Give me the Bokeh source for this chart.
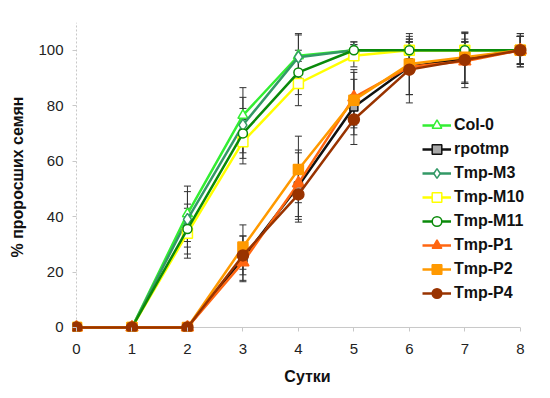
from bokeh.plotting import figure
from bokeh.models import ColumnDataSource, Whisker, TeeHead, Legend, LegendItem, Range1d, FixedTicker
from bokeh.embed import file_html
from bokeh.resources import INLINE

days = [0, 1, 2, 3, 4, 5, 6, 7, 8]
series_names = ["Col-0", "rpotmp", "Tmp-M3", "Tmp-M10", "Tmp-M11", "Tmp-P1", "Tmp-P2", "Tmp-P4"]

col0 = [0, 0, 41, 76.5, 98, 100, 100, 100, 100]
rpotmp = [0, 0, 0, 25, 51, 79.5, 94, 97, 100]
tmp_m3 = [0, 0, 39, 73, 97.5, 100, 100, 100, 100]
tmp_m10 = [0, 0, 34, 67, 88, 98, 100, 100, 100]
tmp_m11 = [0, 0, 35.5, 70, 92, 100, 100, 100, 100]
tmp_p1 = [0, 0, 0, 23.5, 52, 83, 94, 96, 100]
tmp_p2 = [0, 0, 0, 29, 57, 82, 95, 97.5, 100]
tmp_p4 = [0, 0, 0, 26, 48, 75, 93, 96.5, 100]

err_col0 = [0, 0, 10, 10, 8, 2, 3, 3, 5]
err_rpotmp = [0, 0, 0, 8, 12, 10, 10, 9, 5]
err_m3 = [0, 0, 10, 10, 8, 3, 3, 3, 5]
err_m10 = [0, 0, 9, 8, 8, 4, 3, 3, 5]
err_m11 = [0, 0, 9, 9, 8, 3, 3, 3, 5]
err_p1 = [0, 0, 0, 7, 12, 10, 10, 8, 6]
err_p2 = [0, 0, 0, 8, 12, 10, 11, 9, 5]
err_p4 = [0, 0, 0, 7, 10, 9, 12, 10, 6]

y_ticks = [0, 20, 40, 60, 80, 100]
x_ticks = [0, 1, 2, 3, 4, 5, 6, 7, 8]
y_max = 110

values = [col0, rpotmp, tmp_m3, tmp_m10, tmp_m11, tmp_p1, tmp_p2, tmp_p4]
errors = [err_col0, err_rpotmp, err_m3, err_m10, err_m11, err_p1, err_p2, err_p4]

styles = [
    dict(color="#33ee33", marker="triangle", fill="white", size=10),
    dict(color="#111111", marker="square", fill="#a8a8a8", size=8),
    dict(color="#339966", marker="diamond", fill="white", size=12),
    dict(color="#ffff00", marker="square", fill="white", size=10),
    dict(color="#0a8a0a", marker="circle", fill="white", size=9),
    dict(color="#ff6611", marker="triangle", fill="#ff6611", size=12),
    dict(color="#ff9900", marker="square", fill="#ff9900", size=10),
    dict(color="#993300", marker="circle", fill="#993300", size=11),
]

FONT = "Liberation Sans"
AXIS_GRAY = "#c8c8c8"

p = figure(width=550, height=398, output_backend="svg", toolbar_location=None,
           x_range=Range1d(-0.072, 8.4), y_range=Range1d(-1.45, y_max),
           min_border_left=72, min_border_right=8, min_border_top=22, min_border_bottom=67)
p.outline_line_color = None
p.xgrid.visible = False
p.ygrid.visible = False

# axes (tick labels and titles); axis lines drawn at the data origin below
p.xaxis.ticker = FixedTicker(ticks=x_ticks)
p.yaxis.ticker = FixedTicker(ticks=y_ticks)
for ax in (p.xaxis, p.yaxis):
    ax.axis_line_color = None
    ax.minor_tick_line_color = None
    ax.major_tick_line_color = AXIS_GRAY
    ax.major_tick_in = 4
    ax.major_tick_out = 0
    ax.major_label_text_font = FONT
    ax.major_label_text_font_size = "15px"
    ax.major_label_text_color = "#222222"
    ax.axis_label_text_font = FONT
    ax.axis_label_text_font_size = "16px"
    ax.axis_label_text_font_style = "bold"
    ax.axis_label_text_color = "#111111"
p.xaxis.major_label_standoff = 12
p.yaxis.major_label_standoff = 9
p.xaxis.axis_label = "Сутки"
p.yaxis.axis_label = "% проросших семян"
p.xaxis.axis_label_standoff = 11
p.yaxis.axis_label_standoff = 9

p.line(x=[x_ticks[0], x_ticks[-1]], y=[0, 0], line_color=AXIS_GRAY, line_width=1)
p.line(x=[0, 0], y=[0, y_max], line_color=AXIS_GRAY, line_width=1, line_dash="2 2")

# error bars
for vals, errs in zip(values, errors):
    xs = [d for d, e in zip(days, errs) if e > 0]
    lo = [v - e for v, e in zip(vals, errs) if e > 0]
    hi = [v + e for v, e in zip(vals, errs) if e > 0]
    src = ColumnDataSource(dict(x=xs, lo=lo, hi=hi))
    w = Whisker(base="x", lower="lo", upper="hi", source=src, line_color="#333333", line_width=1,
                upper_head=TeeHead(size=7, line_color="#333333", line_width=1),
                lower_head=TeeHead(size=7, line_color="#333333", line_width=1))
    p.add_layout(w)

items = []
for name, vals, st in zip(series_names, values, styles):
    src = ColumnDataSource(dict(x=days, y=vals))
    r1 = p.line("x", "y", source=src, line_color=st["color"], line_width=2.5)
    r2 = p.scatter("x", "y", source=src, marker=st["marker"], size=st["size"],
                   fill_color=st["fill"], line_color=st["color"], line_width=1.5)
    items.append(LegendItem(label=name, renderers=[r1, r2]))

legend = Legend(items=items, location=(350, 26), border_line_color=None,
                background_fill_alpha=0, padding=0, margin=0, spacing=0,
                label_height=24, glyph_height=24, glyph_width=29, label_standoff=3,
                label_text_font=FONT, label_text_font_size="16px", label_text_font_style="bold",
                label_text_color="#111111")
p.add_layout(legend)

open("out.html", "w").write(file_html(p, INLINE))
